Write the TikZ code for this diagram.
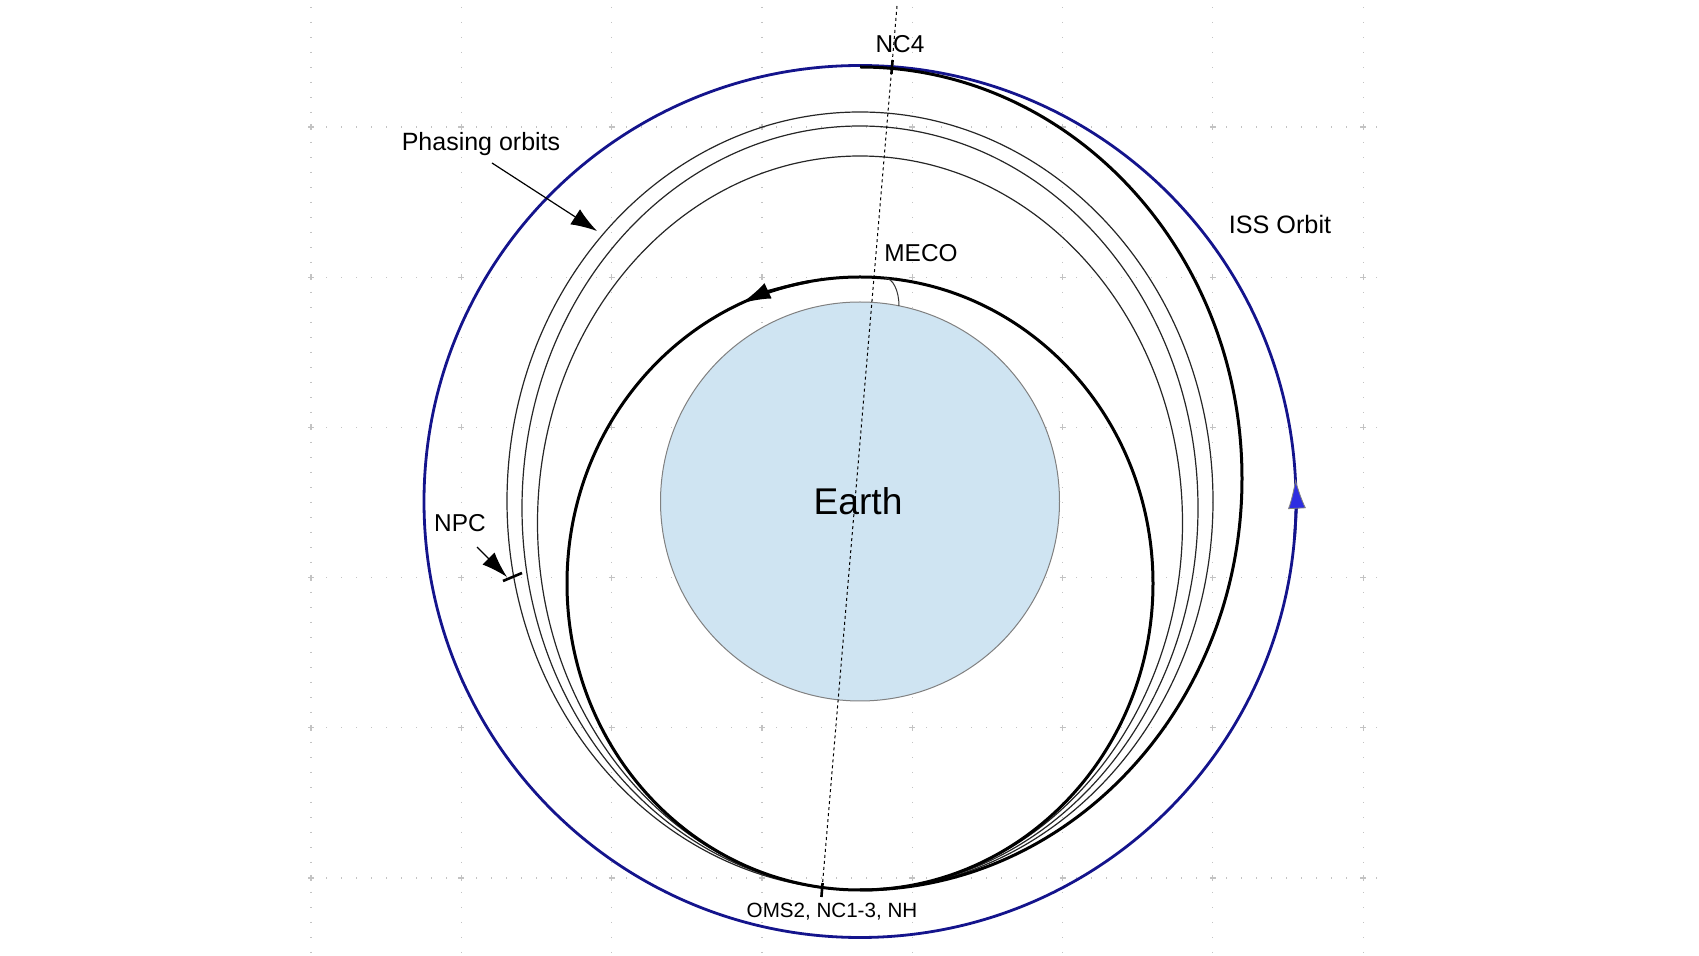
\documentclass[tikz,border=0pt]{standalone}
\usepackage{fontspec}
\setmainfont{Liberation Sans}
\usetikzlibrary{arrows.meta}
\definecolor{issblue}{RGB}{20,20,140}
\definecolor{issfill}{RGB}{45,45,225}
\definecolor{earthfill}{RGB}{207,228,242}
\definecolor{gridgray}{RGB}{195,195,195}

\begin{document}
\begin{tikzpicture}[x=0.5pt,y=-0.5pt,
	every node/.style={inner sep=0pt},
	orbitlabel/.style={anchor=base,font=\fontsize{12.2}{14}\selectfont},
	gridline/.style={gridgray,line width=0.6pt,dash pattern=on 0.6pt off 6.9pt},
	issorbit/.style={issblue,line width=1.4pt},
	thickorbit/.style={black,line width=1.5pt},
	phaseorbit/.style={black!85,line width=0.6pt},
	apse/.style={black,line width=0.5pt,dash pattern=on 1.5pt off 1.5pt},
	burn/.style={black,line width=1.3pt},
	pointer/.style={black,line width=0.6pt,-{Latex[length=13pt,width=9pt]}}]
	\useasboundingbox (0,0) rectangle (1699,956);
	\foreach \gx in {0,...,7}
		\draw [gridline] (311+150.3*\gx,7) -- (311+150.3*\gx,956);
	\foreach \gy in {0,...,5}
		\draw [gridline] (311,127+150.2*\gy) -- (1380,127+150.2*\gy);
	\foreach \gx in {0,...,7}
		\foreach \gy in {0,...,5}
			\draw [gridgray,line width=0.6pt] (308+150.3*\gx,127+150.2*\gy) -- (314+150.3*\gx,127+150.2*\gy)
				(311+150.3*\gx,124+150.2*\gy) -- (311+150.3*\gx,130+150.2*\gy);
	\coordinate (E) at (860,501.5);
	\draw [issorbit] (E) circle [radius=436];
	\draw [gray,line width=0.5pt,fill=earthfill] (E) circle [radius=199.5];
	\draw [phaseorbit] (860,501) ellipse [x radius=353, y radius=389];
	\draw [phaseorbit] (860,508) ellipse [x radius=338, y radius=382];
	\draw [phaseorbit] (860,523) ellipse [x radius=322.5, y radius=367];
	\draw [thickorbit] (860,583.5) ellipse [x radius=293, y radius=306.5];
	\draw [thickorbit] (860,890) arc [start angle=90, end angle=-90, x radius=382, y radius=411.5];
	\draw [thickorbit,-{Latex[length=15pt,width=8.5pt]}] (860,583.5) ++(-100:293 and 306.5)
		arc [start angle=-100, end angle=-114, x radius=293, y radius=306.5];
	\draw [issorbit,-{Latex[length=15pt,width=9pt,fill=issfill,color=gray,line width=0.4pt]}] (E) ++(5:436)
		arc [start angle=5, end angle=-3, radius=436];
	\coordinate (apsetop) at (897,6);
	\coordinate (apsebot) at (822,890);
	\draw [apse] (apsetop) -- (apsebot);
	\draw [burn] (892.6,60) -- (891.4,74);
	\draw [burn] (822.6,883) -- (821.4,897);
	\draw [black!80,line width=0.5pt] (885,278) arc [start angle=-90, end angle=0, x radius=14, y radius=28];
	\node [orbitlabel] (nc4) at (900,53) {NC4};
	\node [orbitlabel] (meco) at (921,262) {MECO};
	\node [orbitlabel] (npc) at (460,532) {NPC};
	\node [orbitlabel,font=\fontsize{12.5}{15}\selectfont] (phasing) at (481,151) {Phasing orbits};
	\node [orbitlabel,font=\fontsize{12.6}{15}\selectfont] (iss) at (1280,234) {ISS Orbit};
	\node [orbitlabel,font=\fontsize{10.3}{12}\selectfont] (oms) at (832,918) {OMS2, NC1-3, NH};
	\node [orbitlabel,font=\fontsize{18.6}{22}\selectfont] (earth) at (858,515) {Earth};
	\coordinate (phfrom) at (492,163);
	\coordinate (phtip) at (597,231);
	\draw [pointer] (phfrom) -- (phtip);
	\coordinate (npcfrom) at (477,547);
	\coordinate (npctip) at (507,577);
	\draw [pointer,-{Latex[length=13pt,width=8.5pt]}] (npcfrom) -- (npctip);
	\draw [burn] (503,581) -- (522,573);
\end{tikzpicture}
\end{document}
